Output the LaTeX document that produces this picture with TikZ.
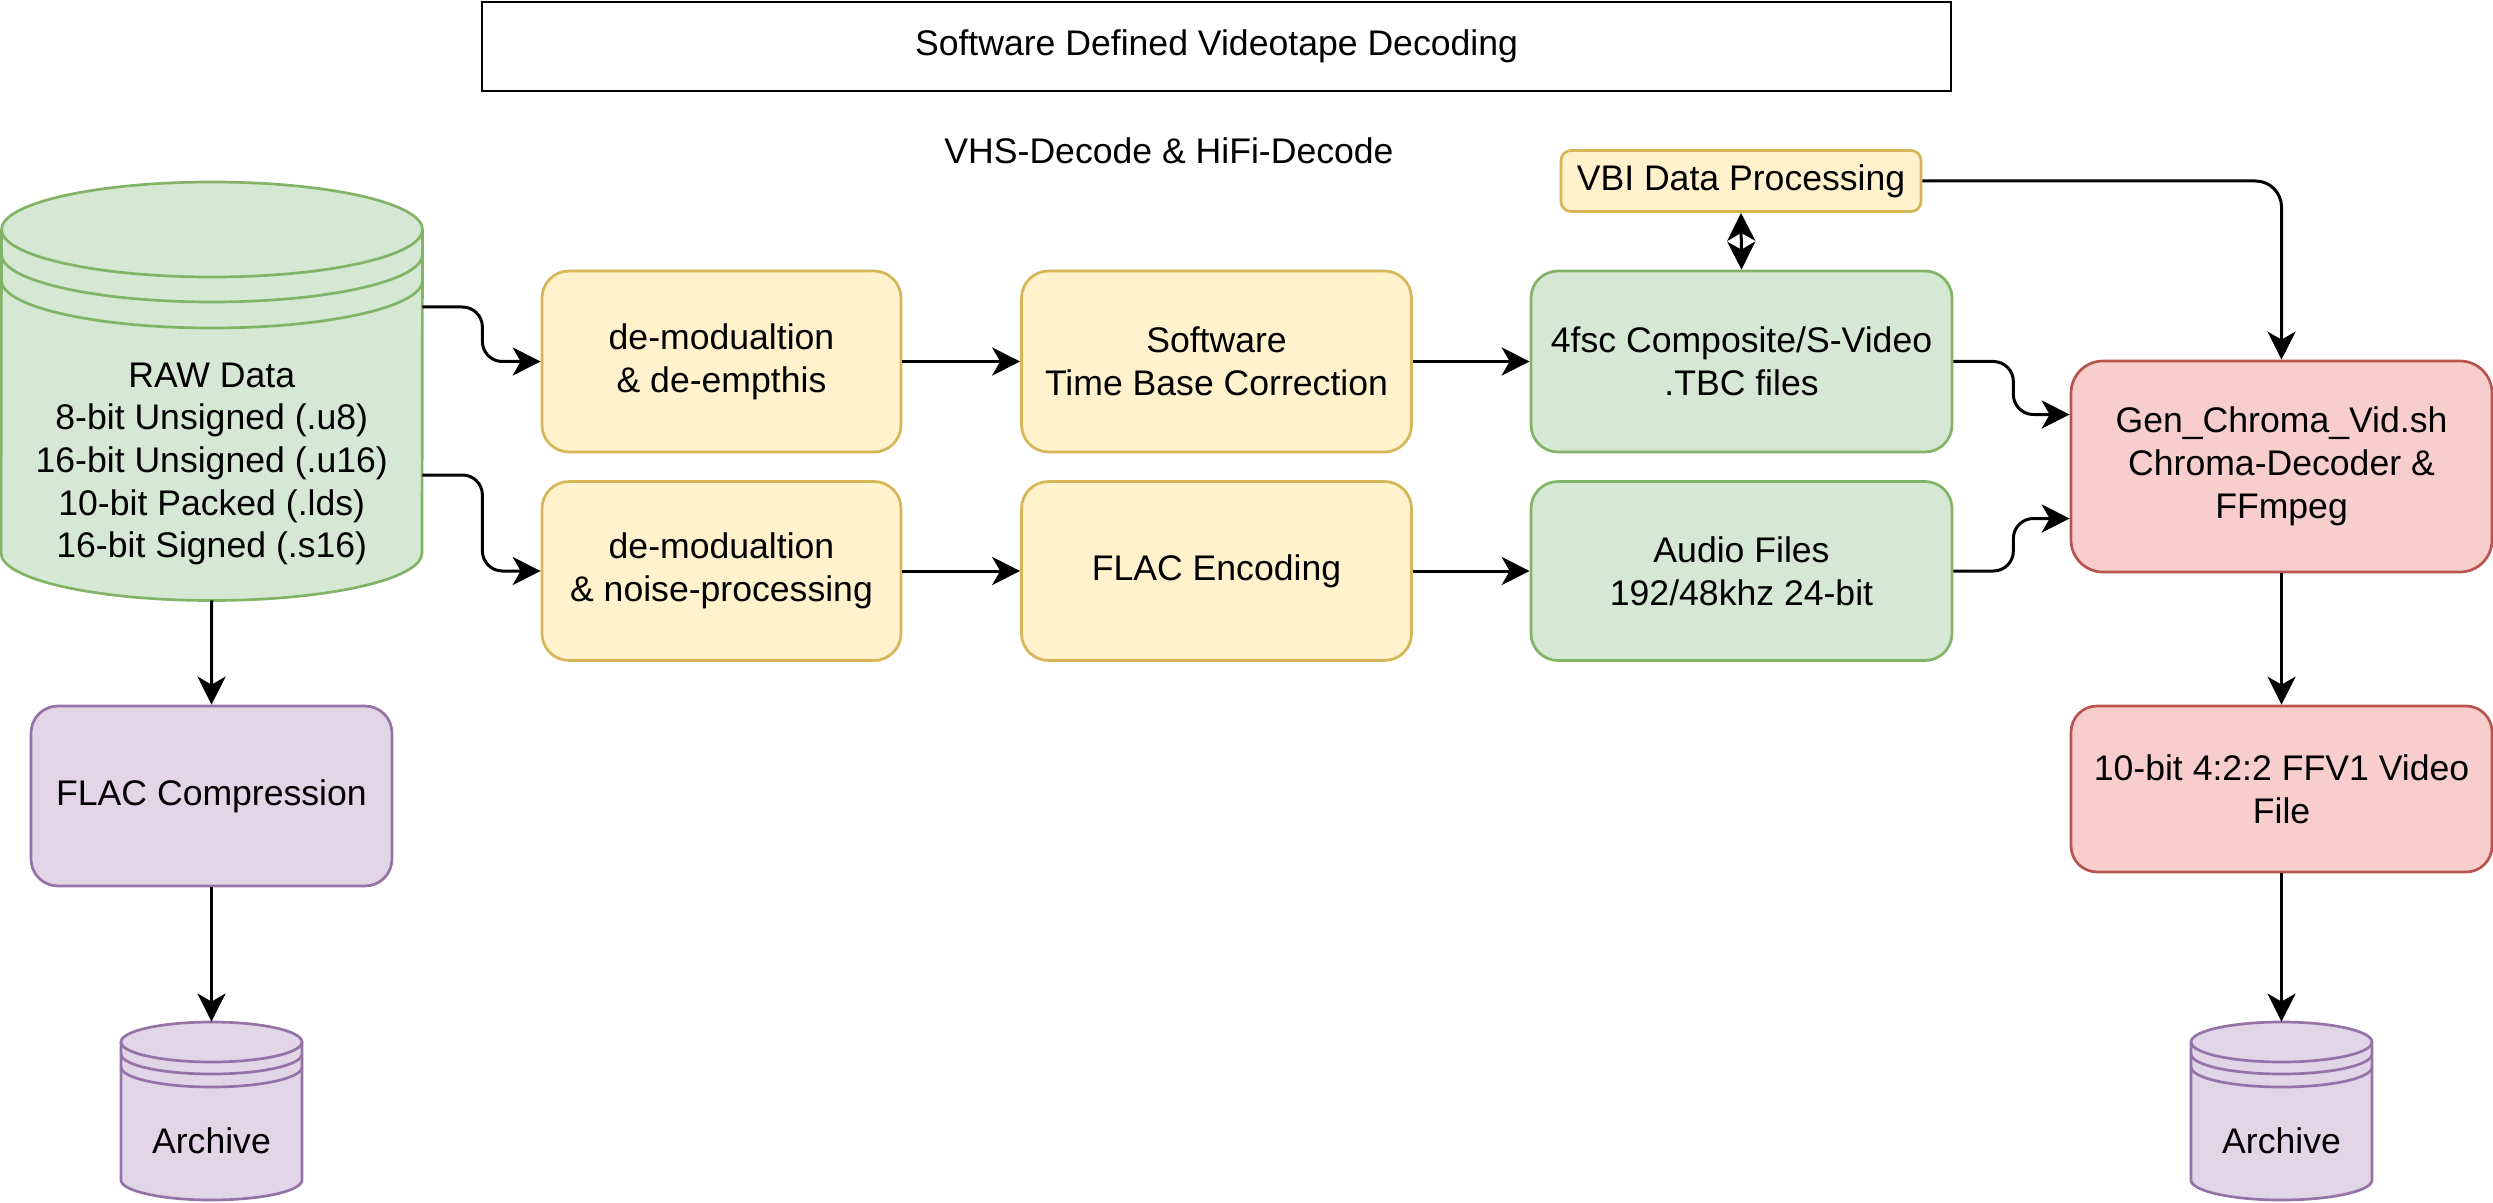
\documentclass[tikz,border=0pt]{standalone}
\usepackage{fontspec}
\setmainfont{Liberation Sans}
\usetikzlibrary{arrows.meta,calc}
\definecolor{gfill}{HTML}{D5E8D4}
\definecolor{gstroke}{HTML}{82B366}
\definecolor{yfill}{HTML}{FFF2CC}
\definecolor{ystroke}{HTML}{D6B656}
\definecolor{rfill}{HTML}{F8CECC}
\definecolor{rstroke}{HTML}{B85450}
\definecolor{pfill}{HTML}{E1D5E7}
\definecolor{pstroke}{HTML}{9673A6}
\tikzset{
  base/.style={draw, line width=1.35pt, align=center, inner sep=0pt, text=black,
    font=\fontsize{17.8pt}{21.6pt}\selectfont},
  yel/.style={base, fill=yfill, draw=ystroke},
  grn/.style={base, fill=gfill, draw=gstroke},
  red/.style={base, fill=rfill, draw=rstroke},
  pur/.style={base, fill=pfill, draw=pstroke},
  txt/.style={align=center, inner sep=0pt, text=black, font=\fontsize{17.8pt}{21.3pt}\selectfont},
  ghost/.style={inner sep=0pt, draw=none, fill=none},
  tip/.tip={Stealth[length=14pt,width=14pt,inset=4pt]},
  arr/.style={-tip, line width=1.5pt, draw=black},
  dbl/.style={tip-tip, line width=1.5pt, draw=black},
}
\begin{document}
\begin{tikzpicture}[x=0.5pt,y=-0.5pt]
\useasboundingbox (0,0) rectangle (2493,1203);

% title
\node[base, draw=black, fill=white, minimum width=734.5pt, minimum height=44.5pt] (title) at (1216.5,46.5) {Software Defined Videotape Decoding};
\node[txt] (sub) at (1169,150.5) {VHS-Decode \& HiFi-Decode};

% RAW data store
\path[fill=gfill] (1.5,229.5) arc[start angle=180,end angle=0,x radius=105.25pt,y radius=23.75pt] -- (422,553) arc[start angle=0,end angle=-180,x radius=105.25pt,y radius=23.75pt] -- cycle;
\draw[gstroke, line width=1.35pt] (1.5,229.5) arc[start angle=180,end angle=0,x radius=105.25pt,y radius=23.75pt] -- (422,553) arc[start angle=0,end angle=-180,x radius=105.25pt,y radius=23.75pt] -- cycle;
\draw[gstroke, line width=1.35pt] (1.5,229.5) arc[start angle=180,end angle=360,x radius=105.25pt,y radius=23.75pt];
\draw[gstroke, line width=1.35pt] (1.5,254.5) arc[start angle=180,end angle=360,x radius=105.25pt,y radius=23.75pt];
\draw[gstroke, line width=1.35pt] (1.5,280.5) arc[start angle=180,end angle=360,x radius=105.25pt,y radius=23.75pt];
\node[ghost, minimum width=210.25pt, minimum height=209pt] (raw) at (211.75,391) {};
\node[txt] (rawtxt) at (211.75,464) {RAW Data\\8-bit Unsigned (.u8)\\16-bit Unsigned (.u16)\\10-bit Packed (.lds)\\16-bit Signed (.s16)};

% left archive
\path[fill=pfill] (121,1042) arc[start angle=180,end angle=0,x radius=45.25pt,y radius=10pt] -- (302,1180) arc[start angle=0,end angle=-180,x radius=45.25pt,y radius=10pt] -- cycle;
\draw[pstroke, line width=1.35pt] (121,1042) arc[start angle=180,end angle=0,x radius=45.25pt,y radius=10pt] -- (302,1180) arc[start angle=0,end angle=-180,x radius=45.25pt,y radius=10pt] -- cycle;
\draw[pstroke, line width=1.35pt] (121,1042) arc[start angle=180,end angle=360,x radius=45.25pt,y radius=10pt];
\draw[pstroke, line width=1.35pt] (121,1054) arc[start angle=180,end angle=360,x radius=45.25pt,y radius=10pt];
\draw[pstroke, line width=1.35pt] (121,1067) arc[start angle=180,end angle=360,x radius=45.25pt,y radius=10pt];
\node[ghost, minimum width=90.5pt, minimum height=89pt] (arch1) at (211.5,1111) {};
\node[txt] (arch1txt) at (211.5,1141) {Archive};

% right archive
\path[fill=pfill] (2191,1042) arc[start angle=180,end angle=0,x radius=45.25pt,y radius=10pt] -- (2372,1180) arc[start angle=0,end angle=-180,x radius=45.25pt,y radius=10pt] -- cycle;
\draw[pstroke, line width=1.35pt] (2191,1042) arc[start angle=180,end angle=0,x radius=45.25pt,y radius=10pt] -- (2372,1180) arc[start angle=0,end angle=-180,x radius=45.25pt,y radius=10pt] -- cycle;
\draw[pstroke, line width=1.35pt] (2191,1042) arc[start angle=180,end angle=360,x radius=45.25pt,y radius=10pt];
\draw[pstroke, line width=1.35pt] (2191,1054) arc[start angle=180,end angle=360,x radius=45.25pt,y radius=10pt];
\draw[pstroke, line width=1.35pt] (2191,1067) arc[start angle=180,end angle=360,x radius=45.25pt,y radius=10pt];
\node[ghost, minimum width=90.5pt, minimum height=89pt] (arch2) at (2281.5,1111) {};
\node[txt] (arch2txt) at (2281.5,1141) {Archive};

% process boxes
\node[yel, rounded corners=13.5pt, minimum width=179.5pt, minimum height=90.5pt] (d1) at (721.5,361.5) {de-modualtion\\\& de-empthis};
\node[yel, rounded corners=13.5pt, minimum width=195pt, minimum height=90.5pt] (tbc) at (1216.5,361.5) {Software\\Time Base Correction};
\node[grn, rounded corners=13.5pt, minimum width=210.5pt, minimum height=90.5pt] (tbcf) at (1741.5,361.5) {4fsc Composite/S-Video\\.TBC files};
\node[yel, rounded corners=13.5pt, minimum width=179.5pt, minimum height=89.5pt] (d2) at (721.5,571) {de-modualtion\\\& noise-processing};
\node[yel, rounded corners=13.5pt, minimum width=195pt, minimum height=89.5pt] (flacenc) at (1216.5,571) {FLAC Encoding};
\node[grn, rounded corners=13.5pt, minimum width=210.5pt, minimum height=89.5pt] (audio) at (1741.5,571) {Audio Files\\192/48khz 24-bit};
\node[yel, rounded corners=5pt, minimum width=180pt, minimum height=30.5pt] (vbi) at (1741,181) {VBI Data Processing};
\node[red, rounded corners=16pt, minimum width=210.5pt, minimum height=105.5pt] (red1) at (2281.5,466.5) {Gen\_Chroma\_Vid.sh\\Chroma-Decoder \&\\FFmpeg};
\node[red, rounded corners=13pt, minimum width=210.5pt, minimum height=83pt] (red2) at (2281.5,789) {10-bit 4:2:2 FFV1 Video\\File};
\node[pur, rounded corners=13.5pt, minimum width=180.5pt, minimum height=90pt] (flacc) at (211.5,796) {FLAC Compression};

% connectors
\draw[arr, rounded corners=10pt] ([yshift=42pt]raw.east) -- ++(60,0) |- (d1.west);
\draw[arr, rounded corners=10pt] ([yshift=-42pt]raw.east) -- ++(60,0) |- (d2.west);
\draw[arr] (d1.east) -- (tbc.west);
\draw[arr] (tbc.east) -- (tbcf.west);
\draw[arr] (d2.east) -- (flacenc.west);
\draw[arr] (flacenc.east) -- (audio.west);
\draw[dbl] (vbi.south) -- (tbcf.north);
\draw[arr, rounded corners=13pt] (vbi.east) -| (red1.north);
\draw[arr, rounded corners=10pt] (tbcf.east) -- ++(60,0) |- ([yshift=26pt]red1.west);
\draw[arr, rounded corners=10pt] (audio.east) -- ++(60,0) |- ([yshift=-26pt]red1.west);
\draw[arr] (red1.south) -- (red2.north);
\draw[arr] (red2.south) -- (arch2.north);
\draw[arr] (raw.south) -- (flacc.north);
\draw[arr] (flacc.south) -- (arch1.north);
\end{tikzpicture}
\end{document}
